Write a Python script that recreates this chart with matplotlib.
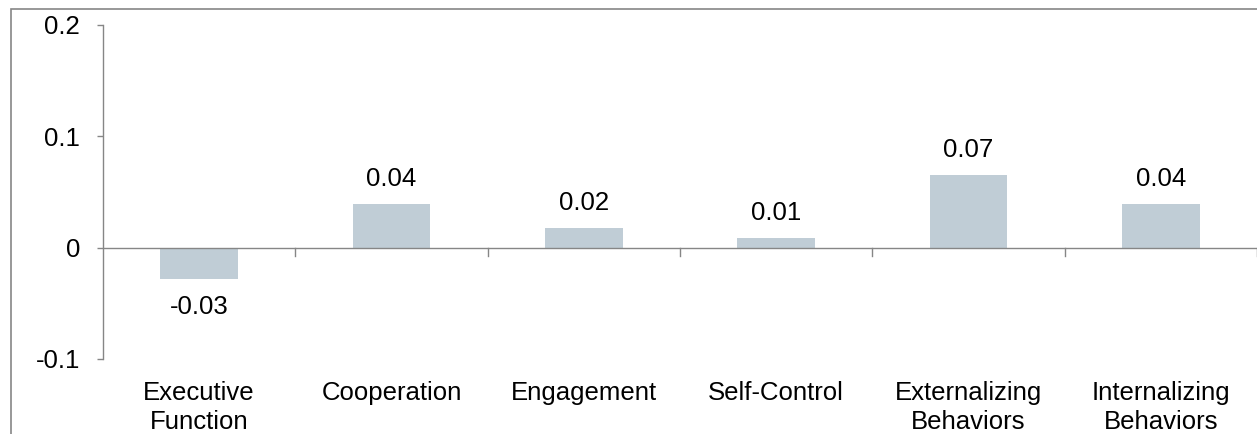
import matplotlib.pyplot as plt
from matplotlib.patches import Rectangle
from matplotlib.transforms import blended_transform_factory

plt.rcParams['font.family'] = ['Liberation Sans', 'DejaVu Sans']

categories = ['Executive\nFunction', 'Cooperation', 'Engagement', 'Self-Control',
              'Externalizing\nBehaviors', 'Internalizing\nBehaviors']
values = [-0.0285, 0.0395, 0.018, 0.0088, 0.065, 0.0395]
labels = ['-0.03', '0.04', '0.02', '0.01', '0.07', '0.04']
yticks = [-0.1, 0, 0.1, 0.2]
ytick_labels = ['-0.1', '0', '0.1', '0.2']

bar_color = '#c0cdd6'
axis_color = '#868686'
fs = 18.5

W, H = 1257, 434
fig = plt.figure(figsize=(W / 100, H / 100), dpi=100)
ax = fig.add_axes([103 / W, (H - 359) / H, (W - 103) / W, (359 - 25) / H])

x = list(range(len(categories)))
ax.bar(x, values, width=0.405, color=bar_color, zorder=2)

ax.set_xlim(-0.5, len(categories) - 0.5)
ax.set_ylim(-0.1, 0.2)
ax.set_yticks(yticks)
ax.set_yticklabels(ytick_labels, fontsize=fs)
ax.tick_params(axis='y', direction='out', length=4.5, width=1, color=axis_color, pad=12)

for s in ['top', 'right', 'bottom']:
    ax.spines[s].set_visible(False)
ax.spines['left'].set_color(axis_color)
ax.spines['left'].set_linewidth(1)

# zero line with category divider ticks
ax.axhline(0, color=axis_color, lw=1, zorder=3)
ax.set_xticks([])
for b in range(1, len(categories) + 1):
    ax.plot([b - 0.5, b - 0.5], [0, -0.0072], color=axis_color, lw=1, clip_on=False, zorder=3)

# category labels under the plot
trans = blended_transform_factory(ax.transData, ax.transAxes)
for xi, c in zip(x, categories):
    ax.annotate(c, (xi, 0), xycoords=trans, xytext=(0, -15.8), textcoords='offset points',
                ha='center', va='top', fontsize=fs, linespacing=1.28)

# value labels
for xi, v, l in zip(x, values, labels):
    if v >= 0:
        ax.annotate(l, (xi, v), xytext=(0, 13), textcoords='offset points',
                    ha='center', va='baseline', fontsize=fs)
    else:
        ax.annotate(l, (xi, v), xytext=(0, -11), textcoords='offset points',
                    ha='center', va='top', fontsize=fs)

# outer frame
fig.patches.append(Rectangle((11 / W, -0.1), 1.2, (H - 9) / H + 0.1, transform=fig.transFigure,
                             fill=False, edgecolor=axis_color, lw=1.2))

fig.savefig('out.png', dpi=100)
